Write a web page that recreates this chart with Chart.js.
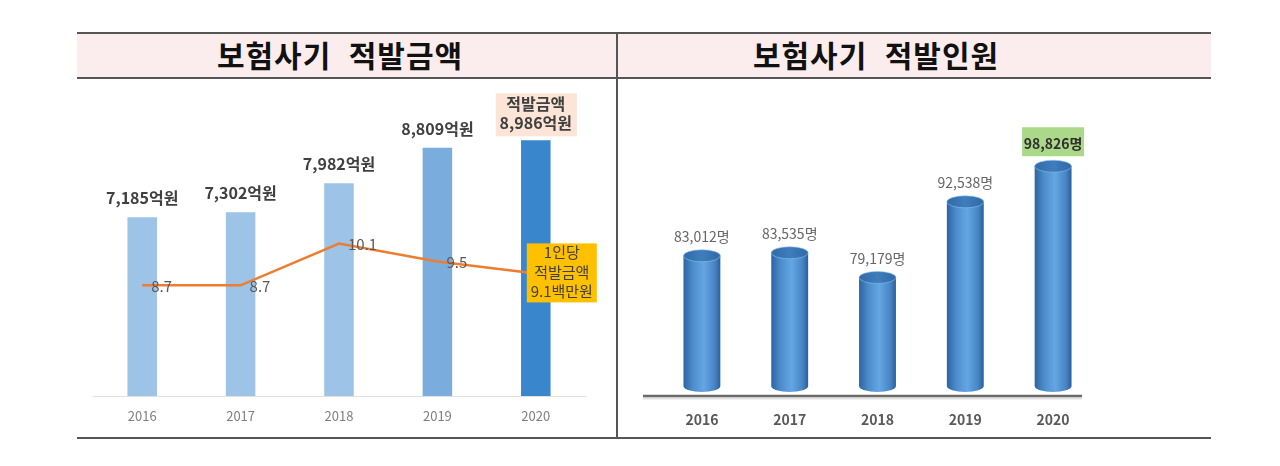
<!DOCTYPE html>
<html lang="ko">
<head>
<meta charset="utf-8">
<title>보험사기 적발금액 / 적발인원</title>
<script src="https://cdn.jsdelivr.net/npm/chart.js@4/dist/chart.umd.min.js"></script>
<style>
    body { margin: 0; width: 1280px; height: 466px; background: #fff; position: relative; overflow: hidden;
           font-family: "Noto Sans CJK KR", "Noto Sans", sans-serif; }
    .band { position: absolute; left: 77px; top: 32px; width: 1134px; height: 43px;
            background: #fbeded; border-top: 2px solid #555; border-bottom: 2px solid #555; }
    .title { position: absolute; top: 33px; height: 43px; line-height: 43px; text-align: center;
             font-size: 30px; font-weight: bold; color: #111; letter-spacing: 1px; word-spacing: 8px; }
    .divider { position: absolute; left: 616px; top: 32px; width: 2px; height: 407px; background: #555; }
    .bottom { position: absolute; left: 77px; top: 437px; width: 1134px; height: 2px; background: #555; }
    canvas { position: absolute; }
</style>
</head>
<body>
<div class="band"></div>
<div class="title" style="left:190px; width:300px;">보험사기 적발금액</div>
<div class="title" style="left:726px; width:300px;">보험사기 적발인원</div>
<div class="divider"></div>
<div class="bottom"></div>

<canvas id="amountChart" width="536" height="358" style="left:80px; top:79px; width:536px; height:358px;"></canvas>
<canvas id="peopleChart" width="592" height="358" style="left:619px; top:79px; width:592px; height:358px;"></canvas>

<script>
// 데이터
const years = ['2016', '2017', '2018', '2019', '2020'];
const fraudAmount = [7185, 7302, 7982, 8809, 8986];     // 적발금액 (억원)
const amountPerPerson = [8.7, 8.7, 10.1, 9.5, 9.1];     // 1인당 적발금액 (백만원)
const fraudPeople = [83012, 83535, 79179, 92538, 98826]; // 적발인원 (명)

const FONT = '"Noto Sans CJK KR", "Noto Sans", sans-serif';
const fmt = v => v.toLocaleString('en-US');

// 적발금액 차트 라벨
const amountLabels = {
    id: 'amountLabels',
    afterDatasetsDraw(chart) {
        const ctx = chart.ctx;
        const points = chart.getDatasetMeta(0).data;
        const bars = chart.getDatasetMeta(1).data;
        ctx.save();
        ctx.textBaseline = 'middle';

        // bar labels
        bars.forEach((bar, i) => {
            ctx.textAlign = 'center';
            ctx.fillStyle = '#404040';
            ctx.font = 'bold 16px ' + FONT;
            if (i === bars.length - 1) {
                ctx.fillStyle = '#fce4d6';
                ctx.fillRect(bar.x - 40, bar.y - 47, 81, 43);
                ctx.fillStyle = '#404040';
                ctx.fillText('적발금액', bar.x, bar.y - 36);
                ctx.fillText(fmt(fraudAmount[i]) + '억원', bar.x, bar.y - 17);
            } else {
                ctx.fillText(fmt(fraudAmount[i]) + '억원', bar.x, bar.y - 19);
            }
        });

        // line labels
        points.forEach((pt, i) => {
            ctx.font = '15px ' + FONT;
            if (i === points.length - 1) {
                ctx.fillStyle = '#ffc000';
                ctx.fillRect(pt.x - 9, pt.y - 30, 70, 59);
                ctx.fillStyle = '#404040';
                ctx.textAlign = 'center';
                ctx.fillText('1인당', pt.x + 26, pt.y - 21);
                ctx.fillText('적발금액', pt.x + 26, pt.y - 1);
                ctx.fillText(amountPerPerson[i] + '백만원', pt.x + 26, pt.y + 18);
            } else {
                ctx.fillStyle = '#595959';
                ctx.textAlign = 'left';
                ctx.fillText(amountPerPerson[i].toFixed(1), pt.x + 9, pt.y + 1);
            }
        });
        ctx.restore();
    }
};

new Chart(document.getElementById('amountChart'), {
    data: {
        labels: years,
        datasets: [{
            type: 'line',
            data: amountPerPerson,
            yAxisID: 'y2',
            borderColor: '#ed7d31',
            borderWidth: 2.5,
            pointRadius: 0,
            tension: 0,
            order: 0
        }, {
            type: 'bar',
            data: fraudAmount,
            yAxisID: 'y',
            backgroundColor: ['#9dc3e6', '#9dc3e6', '#9dc3e6', '#7aacdd', '#3a86cc'],
            barPercentage: 0.3,
            categoryPercentage: 1,
            order: 1
        }]
    },
    options: {
        responsive: false,
        animation: false,
        layout: { padding: { left: 13, right: 31, top: 18, bottom: 0 } },
        plugins: { legend: { display: false }, tooltip: { enabled: false } },
        scales: {
            x: {
                grid: { display: false },
                border: { display: true, color: '#e0e0e0', width: 1 },
                ticks: { color: '#7f7f7f', font: { family: FONT, size: 13 }, padding: 4 },
                afterFit: scale => { scale.height = 41; }
            },
            y: { display: false, min: 3000, max: 10000 },
            y2: { display: false, min: 5, max: 15 }
        }
    },
    plugins: [amountLabels]
});

// 적발인원 차트: 원통 막대
const cylinders = {
    id: 'cylinders',
    afterDatasetsDraw(chart) {
        const ctx = chart.ctx;
        const area = chart.chartArea;
        const bars = chart.getDatasetMeta(0).data;
        ctx.save();

        // baseline
        ctx.strokeStyle = 'rgba(0,0,0,0.12)';
        ctx.lineWidth = 2;
        ctx.beginPath();
        ctx.moveTo(area.left - 15, area.bottom + 12.5);
        ctx.lineTo(area.right - 15, area.bottom + 12.5);
        ctx.stroke();
        ctx.strokeStyle = '#6a6a6a';
        ctx.lineWidth = 2.5;
        ctx.beginPath();
        ctx.moveTo(area.left - 15, area.bottom + 10);
        ctx.lineTo(area.right - 15, area.bottom + 10);
        ctx.stroke();

        bars.forEach((bar, i) => {
            const w = bar.width;
            const l = bar.x - w / 2;
            const ry = 6;
            const base = Math.min(bar.base, area.bottom);
            const g = ctx.createLinearGradient(l, 0, l + w, 0);
            g.addColorStop(0, '#2c64a2');
            g.addColorStop(0.25, '#4d8cca');
            g.addColorStop(0.55, '#64a6e4');
            g.addColorStop(0.85, '#4784c4');
            g.addColorStop(1, '#2a5f9c');

            // body + bottom ellipse
            ctx.fillStyle = g;
            ctx.beginPath();
            ctx.moveTo(l, bar.y);
            ctx.lineTo(l, base);
            ctx.ellipse(bar.x, base, w / 2, ry, 0, Math.PI, 0, true);
            ctx.lineTo(l + w, bar.y);
            ctx.closePath();
            ctx.fill();

            // top ellipse
            const tg = ctx.createLinearGradient(l, 0, l + w, 0);
            tg.addColorStop(0, '#2f6aa8');
            tg.addColorStop(0.5, '#3f7dbd');
            tg.addColorStop(1, '#2f69a6');
            ctx.fillStyle = tg;
            ctx.beginPath();
            ctx.ellipse(bar.x, bar.y, w / 2, ry, 0, 0, Math.PI * 2);
            ctx.fill();
            ctx.strokeStyle = 'rgba(140,190,240,0.6)';
            ctx.lineWidth = 1;
            ctx.stroke();

            // labels
            ctx.textAlign = 'center';
            ctx.textBaseline = 'middle';
            if (i === bars.length - 1) {
                ctx.fillStyle = '#acd88a';
                ctx.fillRect(bar.x - 31, bar.y - 39, 62, 29);
                ctx.fillStyle = '#303030';
                ctx.font = 'bold 14px ' + FONT;
                ctx.fillText(fmt(fraudPeople[i]) + '명', bar.x, bar.y - 23);
            } else {
                ctx.fillStyle = '#666';
                ctx.font = '14px ' + FONT;
                ctx.fillText(fmt(fraudPeople[i]) + '명', bar.x, bar.y - 19);
            }
        });
        ctx.restore();
    }
};

new Chart(document.getElementById('peopleChart'), {
    type: 'bar',
    data: {
        labels: years,
        datasets: [{
            data: fraudPeople,
            backgroundColor: 'rgba(0,0,0,0)',
            barPercentage: 0.42,
            categoryPercentage: 1
        }]
    },
    options: {
        responsive: false,
        animation: false,
        layout: { padding: { left: 39, right: 114, top: 24, bottom: 0 } },
        plugins: { legend: { display: false }, tooltip: { enabled: false } },
        scales: {
            x: {
                grid: { display: false },
                border: { display: false },
                ticks: { color: '#595959', font: { family: FONT, size: 14, weight: 'bold' }, padding: 17 },
                afterFit: scale => { scale.height = 51; }
            },
            y: { display: false, min: 60000, max: 110000 }
        }
    },
    plugins: [cylinders]
});
</script>
</body>
</html>
